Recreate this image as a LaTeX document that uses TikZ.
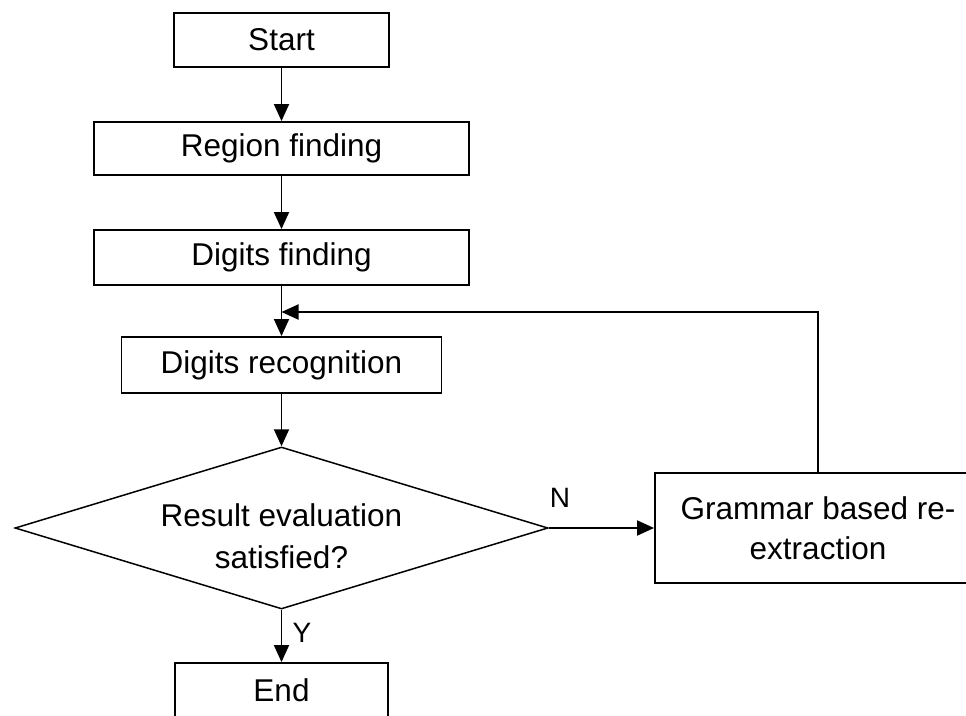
\documentclass[tikz,border=0pt]{standalone}
\usepackage{fontspec}
\setmainfont{Liberation Sans}
\usetikzlibrary{shapes.geometric,arrows.meta}
\begin{document}
\begin{tikzpicture}[x=1pt,y=-1pt,
  every node/.style={font=\fontsize{31.5}{40}\selectfont, inner sep=0pt},
  box/.style={draw, line width=1.9pt, rectangle, align=center},
  dia/.style={draw, line width=1.5pt, diamond, aspect=3.29, align=center},
  conn/.style={line width=1.9pt, -{Triangle[length=17pt,width=15pt]}},
  lbl/.style={font=\fontsize{28}{32}\selectfont}]
\clip (0,0) rectangle (966,715);
\useasboundingbox (0,0) rectangle (966,715);
\node[box, minimum width=215pt, minimum height=54pt] (start) at (281.5,40) {Start};
\node[box, minimum width=375pt, minimum height=53pt] (region) at (281.5,148.5) {Region finding};
\node[box, minimum width=375pt, minimum height=55pt] (dfind) at (281.5,257.5) {Digits finding};
\node[box, minimum width=320pt, minimum height=56pt] (drec) at (281.5,365) {Digits recognition};
\node[dia, minimum width=533pt, minimum height=162pt] (eval) at (281.5,528) {};
\node[align=center, font=\fontsize{31.5}{42}\selectfont] (evaltext) at (281.5,536) {Result evaluation\\satisfied?};
\node[box, minimum width=326pt, minimum height=110pt] (gram) at (818,528) {Grammar based re-\\extraction};
\node[box, minimum width=213pt, minimum height=54pt] (end) at (281.5,690) {End};
\coordinate (join) at (281.5,312);
\draw[conn] (start) -- (region);
\draw[conn] (region) -- (dfind);
\draw[conn] (dfind) -- (drec);
\draw[conn] (drec) -- (eval);
\draw[conn] (eval) -- (end);
\draw[conn] (eval.east) -- (gram.west);
\draw[conn] (gram.north) |- (join);
\node[lbl] (n) at (560,498) {N};
\node[lbl] (y) at (302,633) {Y};
\end{tikzpicture}
\end{document}
